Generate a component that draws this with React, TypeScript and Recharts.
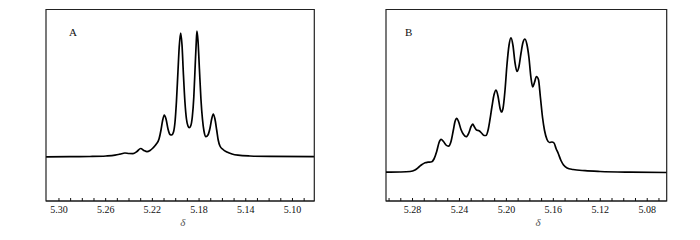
import { LineChart, Line, XAxis, YAxis, ReferenceArea } from 'recharts';

// Spectrum A: chemical shift (ppm) and relative intensity
const shiftA = [5.311, 5.2906, 5.2734, 5.2597, 5.252, 5.2478, 5.2435, 5.24, 5.2366, 5.2332, 5.230, 5.2272, 5.2246, 5.222, 5.2195, 5.2169, 5.2143, 5.2126, 5.2113, 5.2098, 5.2083, 5.2066, 5.2049, 5.2035, 5.2019, 5.2006, 5.1994, 5.1981, 5.197, 5.1958, 5.1946, 5.1935, 5.1921, 5.1908, 5.1895, 5.1884, 5.1872, 5.1858, 5.1845, 5.1833, 5.1824, 5.1818, 5.1809, 5.1797, 5.1784, 5.1771, 5.1758, 5.1741, 5.1724, 5.1706, 5.1692, 5.1678, 5.1664, 5.1649, 5.1636, 5.1621, 5.1595, 5.1561, 5.1518, 5.1467, 5.1364, 5.1193, 5.0816];
const intensityA = [0.2, 0.3, 0.5, 1.0, 1.8, 2.8, 4.0, 3.5, 3.4, 5.5, 8.5, 6.5, 5.3, 6.5, 9, 12.5, 18, 27, 36, 42, 38, 28, 22.5, 22, 25, 35, 55, 85, 110, 124, 112, 85, 55, 38, 31, 29.3, 31, 40, 60, 92, 115, 126, 116, 88, 58, 38, 26, 20.3, 22, 29, 38, 43, 38, 27, 17, 11, 7.5, 5, 3, 1.8, 1.0, 0.6, 0.4];
const ticksA = [5.30, 5.29, 5.28, 5.27, 5.26, 5.25, 5.24, 5.23, 5.22, 5.21, 5.20, 5.19, 5.18, 5.17, 5.16, 5.15, 5.14, 5.13, 5.12, 5.11, 5.10, 5.09];
const labelsA = ['5.30', '5.26', '5.22', '5.18', '5.14', '5.10'];

// Spectrum B
const shiftB = [5.3026, 5.2907, 5.2821, 5.2779, 5.2745, 5.2719, 5.2693, 5.2668, 5.2636, 5.2617, 5.2594, 5.2574, 5.2557, 5.2536, 5.2515, 5.2493, 5.2472, 5.2452, 5.2438, 5.2423, 5.2408, 5.2387, 5.2365, 5.2342, 5.2319, 5.2301, 5.2287, 5.2272, 5.2255, 5.2233, 5.2212, 5.2191, 5.2174, 5.2157, 5.2140, 5.2123, 5.2105, 5.2088, 5.2071, 5.2054, 5.2042, 5.2029, 5.2012, 5.1995, 5.1978, 5.1961, 5.1944, 5.1927, 5.1910, 5.1893, 5.1876, 5.1859, 5.1842, 5.1825, 5.1808, 5.1791, 5.1776, 5.1761, 5.1744, 5.1727, 5.1710, 5.1692, 5.1675, 5.1654, 5.1633, 5.1612, 5.1594, 5.1577, 5.1558, 5.1535, 5.1513, 5.1483, 5.1432, 5.1330, 5.1202, 5.0947, 5.0634];
const intensityB = [0.3, 0.5, 1.0, 2.5, 5.5, 8, 9.8, 10.3, 10.8, 13.5, 21, 30, 33.2, 31, 27.5, 26.3, 31, 42.5, 51, 54.2, 51, 43, 38, 35.8, 40, 46, 48.3, 45.5, 42.5, 41.8, 39.5, 37, 37, 42, 53, 66, 78, 82.5, 76, 64, 60.5, 64, 82, 108, 127, 134.7, 127, 110, 101, 106, 119, 130, 133.5, 128, 115, 95, 85.5, 90, 96, 93, 75, 55, 42, 33, 30, 30.5, 29.5, 24, 19, 12, 7.5, 4.5, 3.0, 1.8, 1.0, 0.3, 0];
const ticksB = [5.30, 5.29, 5.28, 5.27, 5.26, 5.25, 5.24, 5.23, 5.22, 5.21, 5.20, 5.19, 5.18, 5.17, 5.16, 5.15, 5.14, 5.13, 5.12, 5.11, 5.10, 5.09, 5.08, 5.07];
const labelsB = ['5.28', '5.24', '5.20', '5.16', '5.12', '5.08'];

const FONT = '"Liberation Serif", "Times New Roman", serif';
const INK = '#111';

function makeTick(labels: string[]) {
  return (props: any) => {
    const { x, y, payload } = props;
    const txt = Number(payload.value).toFixed(2);
    if (!labels.includes(txt)) return <g />;
    return (
      <text x={x} y={y} dy="0.71em" textAnchor="middle" fontSize={10} fontFamily={FONT} fill={INK}>
        {txt}
      </text>
    );
  };
}

interface PanelProps {
  shift: number[];
  intensity: number[];
  ticks: number[];
  labels: string[];
  domainX: [number, number];
  domainY: [number, number];
  margin: { top: number; right: number; bottom: number; left: number };
  letter: string;
  letterX: number;
  deltaX: number;
}

function Panel({ shift, intensity, ticks, labels, domainX, domainY, margin, letter, letterX, deltaX }: PanelProps) {
  const data = shift.map((s, i) => ({ ppm: s, v: intensity[i] }));
  return (
    <LineChart width={350} height={240} data={data} margin={margin}>
      <XAxis
        dataKey="ppm"
        type="number"
        domain={domainX}
        reversed
        allowDataOverflow
        ticks={ticks}
        interval={0}
        height={30}
        tickSize={-3}
        tickMargin={8}
        tick={makeTick(labels)}
        axisLine={{ stroke: INK, strokeWidth: 1.2 }}
        tickLine={{ stroke: INK }}
      />
      <YAxis type="number" domain={domainY} allowDataOverflow hide />
      <ReferenceArea
        x1={domainX[0]}
        x2={domainX[1]}
        y1={domainY[0]}
        y2={domainY[1]}
        fill="none"
        fillOpacity={0}
        stroke="#222"
        strokeWidth={1.2}
        ifOverflow="visible"
      />
      <Line type="monotone" dataKey="v" stroke="#000" strokeWidth={1.7} dot={false} isAnimationActive={false} />
      <text x={letterX} y={36} fontSize={11} fontFamily={FONT} fill={INK}>{letter}</text>
      <text x={deltaX} y={226} textAnchor="middle" fontSize={11} fontStyle="italic" fontFamily={FONT} fill="#555">δ</text>
    </LineChart>
  );
}

export default function App() {
  return (
    <div style={{ position: 'absolute', left: 0, top: 0, width: 700, height: 240, background: '#fff' }}>
      <div style={{ position: 'absolute', left: 0, top: 0 }}>
        <Panel
          shift={shiftA}
          intensity={intensityA}
          ticks={ticksA}
          labels={labelsA}
          domainX={[5.0813, 5.3111]}
          domainY={[-44, 147.5]}
          margin={{ top: 9.5, right: 35.7, bottom: 9, left: 46 }}
          letter="A"
          letterX={69}
          deltaX={182.7}
        />
      </div>
      <div style={{ position: 'absolute', left: 350, top: 0 }}>
        <Panel
          shift={shiftB}
          intensity={intensityB}
          ticks={ticksB}
          labels={labelsB}
          domainX={[5.0634, 5.3026]}
          domainY={[-28.5, 163]}
          margin={{ top: 9.5, right: 33.3, bottom: 9, left: 36 }}
          letter="B"
          letterX={55}
          deltaX={188}
        />
      </div>
    </div>
  );
}
